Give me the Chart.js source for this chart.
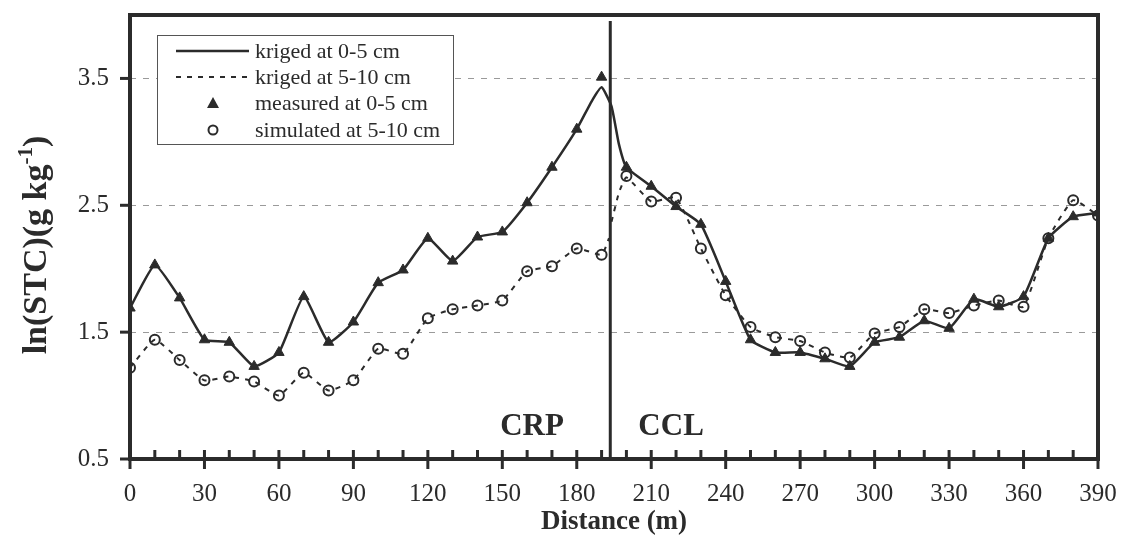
<!DOCTYPE html>
<html>
<head>
<meta charset="utf-8">
<script src="https://cdn.jsdelivr.net/npm/chart.js@4.4.1/dist/chart.umd.min.js"></script>
<style>
  html, body { margin: 0; padding: 0; background: #fff; }
  #wrap { width: 1121px; height: 537px; }
</style>
</head>
<body>
<div id="wrap"><canvas id="stcChart"></canvas></div>
<script>
// ===== DADOS =====
const distances = [0, 10, 20, 30, 40, 50, 60, 70, 80, 90, 100, 110, 120, 130, 140, 150, 160, 170, 180, 190,
                   200, 210, 220, 230, 240, 250, 260, 270, 280, 290, 300, 310, 320, 330, 340, 350, 360, 370, 380, 390];
const measured05 = [1.69, 2.03, 1.77, 1.44, 1.42, 1.23, 1.34, 1.78, 1.42, 1.58, 1.89, 1.99, 2.24, 2.06, 2.25, 2.29, 2.52, 2.80, 3.10, 3.51,
                    2.80, 2.65, 2.49, 2.35, 1.90, 1.44, 1.34, 1.34, 1.29, 1.23, 1.42, 1.46, 1.59, 1.53, 1.76, 1.70, 1.78, 2.24, 2.41, 2.44];
const simulated510 = [1.22, 1.44, 1.28, 1.12, 1.15, 1.11, 1.00, 1.18, 1.04, 1.12, 1.37, 1.33, 1.61, 1.68, 1.71, 1.75, 1.98, 2.02, 2.16, 2.11,
                      2.73, 2.53, 2.56, 2.16, 1.79, 1.54, 1.46, 1.43, 1.34, 1.30, 1.49, 1.54, 1.68, 1.65, 1.71, 1.75, 1.70, 2.24, 2.54, 2.42];

// linhas krigadas (com pontos extras perto da fronteira CRP/CCL)
const kriged05X = [0, 10, 20, 30, 40, 50, 60, 70, 80, 90, 100, 110, 120, 130, 140, 150, 160, 170, 180, 186, 190, 194, 197,
                   200, 210, 220, 230, 240, 250, 260, 270, 280, 290, 300, 310, 320, 330, 340, 350, 360, 370, 380, 390];
const kriged05Y = [1.69, 2.03, 1.77, 1.44, 1.42, 1.23, 1.34, 1.78, 1.42, 1.58, 1.89, 1.99, 2.24, 2.06, 2.25, 2.29, 2.52, 2.80, 3.10, 3.32, 3.43, 3.28, 2.98,
                   2.80, 2.65, 2.49, 2.35, 1.90, 1.44, 1.34, 1.34, 1.29, 1.23, 1.42, 1.46, 1.59, 1.53, 1.76, 1.70, 1.78, 2.24, 2.41, 2.44];
const kriged510X = [0, 10, 20, 30, 40, 50, 60, 70, 80, 90, 100, 110, 120, 130, 140, 150, 160, 170, 180, 190, 193, 193.5, 194, 197,
                    200, 210, 220, 230, 240, 250, 260, 270, 280, 290, 300, 310, 320, 330, 340, 350, 360, 370, 380, 390];
const kriged510Y = [1.22, 1.44, 1.28, 1.12, 1.15, 1.11, 1.00, 1.18, 1.04, 1.12, 1.37, 1.33, 1.61, 1.68, 1.71, 1.75, 1.98, 2.02, 2.16, 2.11, 2.24, null, 2.37, 2.60,
                    2.72, 2.53, 2.56, 2.16, 1.79, 1.54, 1.46, 1.43, 1.34, 1.30, 1.49, 1.54, 1.68, 1.65, 1.71, 1.75, 1.70, 2.24, 2.54, 2.42];

const yTicks = [0.5, 1.5, 2.5, 3.5];
const xTickStep = 10;
const xLabelStep = 30;
const boundaryX = 193.5;
const zoneLabels = ['CRP', 'CCL'];
const zoneLabelX = [162, 218];
const legendLabels = ['kriged at 0-5 cm', 'kriged at 5-10 cm', 'measured at 0-5 cm', 'simulated at 5-10 cm'];

const INK = '#2b2b2b';
const SERIF = '"Liberation Serif", "DejaVu Serif", serif';

function toPoints(xs, ys) {
    return xs.map((x, i) => ({ x: x, y: ys[i] }));
}

// Remove o padding automático dos eixos para fixar a área do gráfico
function zeroPadding(scale) {
    scale.paddingLeft = 0;
    scale.paddingRight = 0;
    scale.paddingTop = 0;
    scale.paddingBottom = 0;
}

// ===== PLUGIN: moldura, grade, ticks, textos e legenda =====
const decorPlugin = {
    id: 'decor',
    beforeDatasetsDraw(chart) {
        const ctx = chart.ctx;
        const area = chart.chartArea;
        const y = chart.scales.y;
        ctx.save();
        // grade tracejada horizontal
        ctx.strokeStyle = '#9a9a9a';
        ctx.lineWidth = 1;
        ctx.setLineDash([6, 7]);
        yTicks.forEach(v => {
            if (v === 0.5) return;
            const py = Math.round(y.getPixelForValue(v)) + 0.5;
            ctx.beginPath();
            ctx.moveTo(area.left, py);
            ctx.lineTo(area.right, py);
            ctx.stroke();
        });
        ctx.restore();
    },
    afterDatasetsDraw(chart) {
        const ctx = chart.ctx;
        const area = chart.chartArea;
        const x = chart.scales.x;
        const y = chart.scales.y;
        ctx.save();

        // linha divisória CRP / CCL
        ctx.strokeStyle = INK;
        ctx.lineWidth = 3;
        const bx = x.getPixelForValue(boundaryX);
        ctx.beginPath();
        ctx.moveTo(bx, area.top + 6);
        ctx.lineTo(bx, area.bottom);
        ctx.stroke();

        // moldura
        ctx.lineWidth = 4;
        ctx.strokeRect(area.left, area.top, area.right - area.left, area.bottom - area.top);

        // ticks do eixo x
        ctx.lineWidth = 3;
        for (let v = 0; v <= 390; v += xTickStep) {
            const px = x.getPixelForValue(v);
            const major = v % xLabelStep === 0;
            ctx.beginPath();
            ctx.moveTo(px, area.bottom - 9);
            ctx.lineTo(px, major ? area.bottom + 10 : area.bottom);
            ctx.stroke();
        }
        // ticks do eixo y
        yTicks.forEach(v => {
            const py = y.getPixelForValue(v);
            ctx.beginPath();
            ctx.moveTo(area.left - 10, py);
            ctx.lineTo(area.left, py);
            ctx.stroke();
        });

        // rótulos das zonas
        ctx.fillStyle = INK;
        ctx.font = 'bold 31px ' + SERIF;
        ctx.textAlign = 'center';
        ctx.textBaseline = 'alphabetic';
        zoneLabels.forEach((t, i) => {
            ctx.fillText(t, x.getPixelForValue(zoneLabelX[i]), area.bottom - 24);
        });

        // legenda
        const lx = area.left + 27, ly = area.top + 20;
        ctx.fillStyle = '#fff';
        ctx.fillRect(lx, ly, 297, 110);
        ctx.strokeStyle = '#555';
        ctx.lineWidth = 1;
        ctx.strokeRect(lx + 0.5, ly + 0.5, 296, 109);
        ctx.font = '22px ' + SERIF;
        ctx.textAlign = 'left';
        ctx.textBaseline = 'middle';
        const rows = [ly + 16, ly + 42, ly + 68, ly + 95];
        const sx0 = lx + 19, sx1 = lx + 92, mx = lx + 56, tx = lx + 98;
        legendLabels.forEach((t, i) => {
            const ry = rows[i];
            ctx.strokeStyle = INK;
            ctx.fillStyle = INK;
            if (i === 0) {
                ctx.lineWidth = 2.5; ctx.setLineDash([]);
                ctx.beginPath(); ctx.moveTo(sx0, ry); ctx.lineTo(sx1, ry); ctx.stroke();
            } else if (i === 1) {
                ctx.lineWidth = 2; ctx.setLineDash([5, 6]);
                ctx.beginPath(); ctx.moveTo(sx0, ry); ctx.lineTo(sx1, ry); ctx.stroke();
                ctx.setLineDash([]);
            } else if (i === 2) {
                ctx.beginPath();
                ctx.moveTo(mx, ry - 6); ctx.lineTo(mx + 6, ry + 5); ctx.lineTo(mx - 6, ry + 5);
                ctx.closePath(); ctx.fill();
            } else {
                ctx.lineWidth = 2;
                ctx.fillStyle = '#fff';
                ctx.beginPath(); ctx.arc(mx, ry, 4.5, 0, Math.PI * 2); ctx.fill(); ctx.stroke();
            }
            ctx.fillStyle = INK;
            ctx.fillText(t, tx, ry + 1);
        });

        // título do eixo x
        ctx.font = 'bold 27px ' + SERIF;
        ctx.textAlign = 'center';
        ctx.textBaseline = 'alphabetic';
        ctx.fillText('Distance (m)', (area.left + area.right) / 2, 529);

        // título do eixo y (com sobrescrito)
        ctx.translate(46, 245);
        ctx.rotate(-Math.PI / 2);
        const mainFont = 'bold 34px ' + SERIF;
        const supFont = 'bold 21px ' + SERIF;
        ctx.font = mainFont;
        const p1 = 'ln(STC)(g kg';
        const w1 = ctx.measureText(p1).width;
        ctx.font = supFont;
        const w2 = ctx.measureText('-1').width;
        ctx.font = mainFont;
        const w3 = ctx.measureText(')').width;
        let cx = -(w1 + w2 + w3) / 2;
        ctx.textAlign = 'left';
        ctx.fillText(p1, cx, 0);
        cx += w1;
        ctx.font = supFont;
        ctx.fillText('-1', cx, -14);
        cx += w2;
        ctx.font = mainFont;
        ctx.fillText(')', cx, 0);

        ctx.restore();
    }
};

// ===== GRÁFICO =====
function initChart() {
    const ctx = document.getElementById('stcChart');
    new Chart(ctx, {
        type: 'scatter',
        data: {
            datasets: [
                {
                    label: 'kriged at 0-5 cm',
                    data: toPoints(kriged05X, kriged05Y),
                    showLine: true,
                    borderColor: INK,
                    borderWidth: 2.5,
                    pointRadius: 0,
                    tension: 0.15,
                    spanGaps: false
                },
                {
                    label: 'kriged at 5-10 cm',
                    data: toPoints(kriged510X, kriged510Y),
                    showLine: true,
                    borderColor: INK,
                    borderWidth: 2,
                    borderDash: [5, 6],
                    pointRadius: 0,
                    tension: 0.15,
                    spanGaps: false
                },
                {
                    label: 'measured at 0-5 cm',
                    data: toPoints(distances, measured05),
                    showLine: false,
                    pointStyle: 'triangle',
                    pointRadius: 6,
                    backgroundColor: INK,
                    borderColor: INK,
                    borderWidth: 1
                },
                {
                    label: 'simulated at 5-10 cm',
                    data: toPoints(distances, simulated510),
                    showLine: false,
                    pointStyle: 'circle',
                    pointRadius: 5,
                    backgroundColor: '#fff',
                    borderColor: INK,
                    borderWidth: 2
                }
            ]
        },
        options: {
            responsive: true,
            maintainAspectRatio: false,
            animation: false,
            layout: { padding: { top: 15, right: 23, left: 0, bottom: 0 } },
            plugins: {
                legend: { display: false },
                tooltip: { enabled: false }
            },
            scales: {
                x: {
                    type: 'linear',
                    min: 0,
                    max: 390,
                    afterBuildTicks: scale => {
                        const t = [];
                        for (let v = 0; v <= 390; v += xLabelStep) t.push({ value: v });
                        scale.ticks = t;
                    },
                    afterFit: scale => { scale.height = 78; zeroPadding(scale); },
                    grid: { display: false, drawTicks: false },
                    border: { display: false },
                    ticks: {
                        color: INK,
                        padding: 20,
                        maxRotation: 0,
                        autoSkip: false,
                        font: { family: SERIF, size: 25 },
                        callback: v => String(v)
                    }
                },
                y: {
                    type: 'linear',
                    min: 0.5,
                    max: 4.0,
                    afterBuildTicks: scale => {
                        scale.ticks = yTicks.map(v => ({ value: v }));
                    },
                    afterFit: scale => { scale.width = 130; zeroPadding(scale); },
                    grid: { display: false, drawTicks: false },
                    border: { display: false },
                    ticks: {
                        color: INK,
                        padding: 21,
                        font: { family: SERIF, size: 25 },
                        callback: v => v.toFixed(1)
                    }
                }
            }
        },
        plugins: [decorPlugin]
    });
}

document.addEventListener('DOMContentLoaded', initChart);
</script>
</body>
</html>
